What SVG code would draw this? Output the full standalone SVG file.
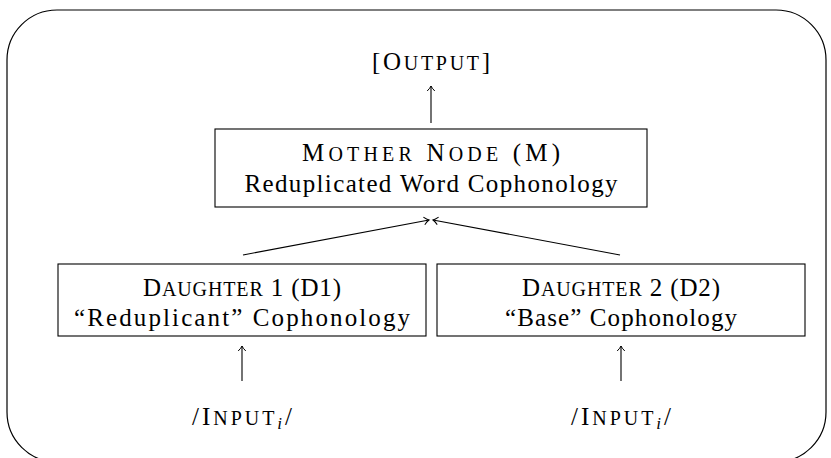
<svg xmlns="http://www.w3.org/2000/svg" width="831" height="458" viewBox="0 0 831 458">
<style>
.t{font-family:"Liberation Serif","DejaVu Serif",serif;font-size:25px;fill:#000;text-anchor:middle}
.s{font-size:20px}
.box{fill:#fff;stroke:#000;stroke-width:1.1}
.c{stroke:#000;stroke-width:1.1;fill:none;marker-end:url(#ah)}
</style>
<defs>
<marker id="ah" viewBox="-6 -5 8 10" refX="0" refY="0" markerWidth="8" markerHeight="10" markerUnits="userSpaceOnUse" orient="auto">
<path d="M-5,-3.8 Q-2,-0.8 0,0 Q-2,0.8 -5,3.8" fill="none" stroke="#000" stroke-width="1"/>
</marker>
</defs>
<rect x="7" y="10" width="819" height="452" rx="50" ry="50" fill="none" stroke="#000" stroke-width="1.2"/>
<g id="connectors">
<line class="c" x1="431" y1="123" x2="431" y2="86"/>
<line class="c" x1="243" y1="255" x2="429" y2="220"/>
<line class="c" x1="620" y1="255" x2="433" y2="220"/>
<line class="c" x1="242" y1="381" x2="242" y2="346"/>
<line class="c" x1="621" y1="381" x2="621" y2="346"/>
</g>
<g id="output"><text class="t" x="431" y="70" textLength="118" lengthAdjust="spacing">[O<tspan class="s">UTPUT</tspan>]</text></g>
<g id="mother">
<rect class="box" x="215" y="129" width="432" height="78"/>
<text class="t" x="431" y="161" textLength="258" lengthAdjust="spacing">M<tspan class="s">OTHER</tspan> N<tspan class="s">ODE</tspan> (M)</text>
<text class="t" x="431" y="192" textLength="373" lengthAdjust="spacing">Reduplicated Word Cophonology</text>
</g>
<g id="d1">
<rect class="box" x="58" y="264" width="368" height="72"/>
<text class="t" x="242" y="296" textLength="198" lengthAdjust="spacing">D<tspan class="s">AUGHTER</tspan> 1 (D1)</text>
<text class="t" x="242" y="326" textLength="336" lengthAdjust="spacing">“Reduplicant” Cophonology</text>
</g>
<g id="d2">
<rect class="box" x="437" y="264" width="368" height="72"/>
<text class="t" x="621" y="296" textLength="198" lengthAdjust="spacing">D<tspan class="s">AUGHTER</tspan> 2 (D2)</text>
<text class="t" x="621" y="326" textLength="232" lengthAdjust="spacing">“Base” Cophonology</text>
</g>
<g id="input1"><text class="t" x="242" y="425" textLength="100" lengthAdjust="spacing">/I<tspan class="s">NPUT</tspan><tspan font-style="italic" font-size="17" dy="4">i</tspan><tspan dy="-4">/</tspan></text></g>
<g id="input2"><text class="t" x="621" y="425" textLength="100" lengthAdjust="spacing">/I<tspan class="s">NPUT</tspan><tspan font-style="italic" font-size="17" dy="4">i</tspan><tspan dy="-4">/</tspan></text></g>
</svg>
